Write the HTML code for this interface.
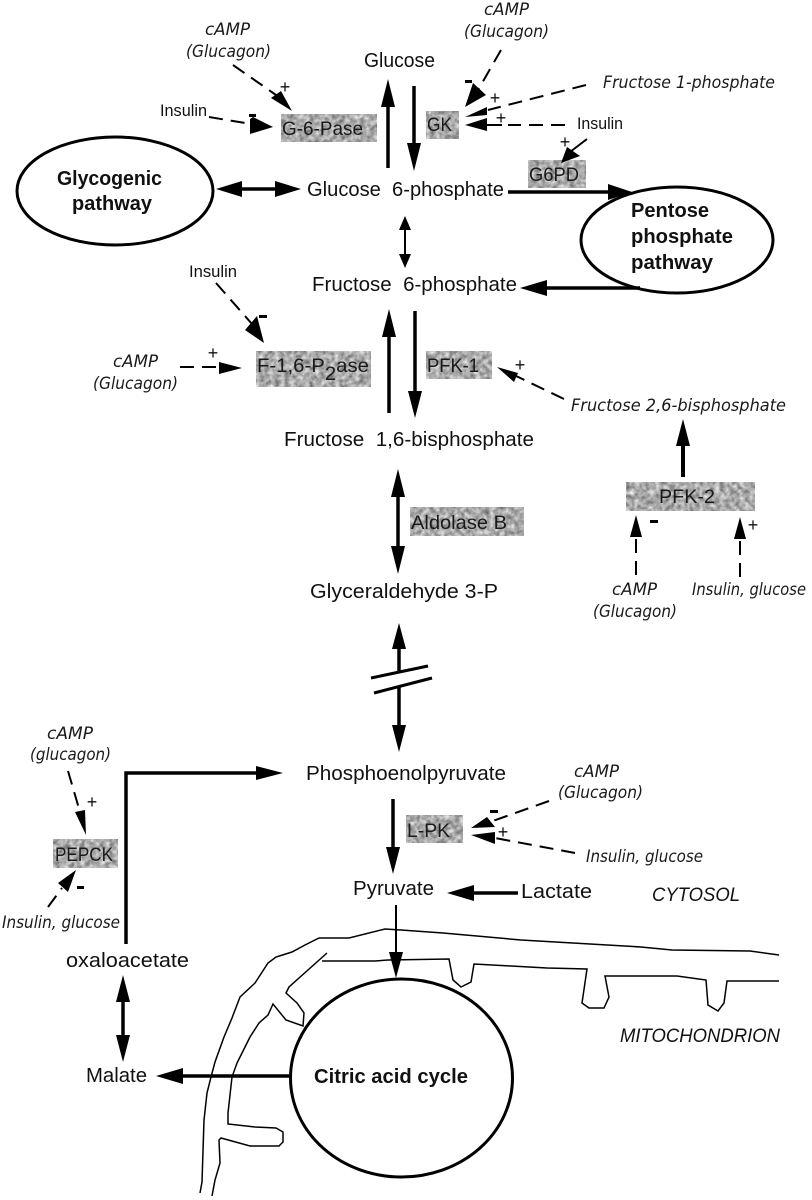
<!DOCTYPE html>
<html><head><meta charset="utf-8"><style>
html,body{margin:0;padding:0;background:#fff}
svg{display:block;filter:blur(.35px)}
text{font-family:"Liberation Sans",sans-serif;fill:#111}
.m{font-size:20px}
.e{font-size:19.5px;fill:#1a1a1a}
.h{font-family:"DejaVu Sans",sans-serif;font-style:oblique;font-size:16.5px;fill:#1a1a1a}
.p{font-size:17px}
.b{font-weight:bold;font-size:20px}
.s{font-size:18px;text-anchor:middle}
.i{font-style:italic;font-size:19px}
.l{stroke:#000;fill:none}
.d{stroke:#000;fill:none;stroke-width:2;stroke-dasharray:14 8}
.g{fill:#ababab}
</style></head><body>
<svg width="812" height="1200" viewBox="0 0 812 1200" xmlns="http://www.w3.org/2000/svg">
<defs>
<filter id="n" x="0" y="0" width="100%" height="100%" color-interpolation-filters="sRGB">
<feTurbulence type="fractalNoise" baseFrequency=".2" numOctaves="2" seed="4"/>
<feColorMatrix values=".7 0 0 0 .32 .7 0 0 0 .32 .7 0 0 0 .32 0 0 0 0 1"/>
<feComposite in2="SourceGraphic" operator="in"/>
</filter>
</defs>
<rect width="812" height="1200" fill="#fff"/>

<!-- enzyme boxes -->
<g filter="url(#n)">
<rect class="g" x="281" y="114" width="96" height="28"/>
<rect class="g" x="426" y="111" width="33" height="28"/>
<rect class="g" x="528" y="160" width="58" height="28"/>
<rect class="g" x="256" y="351" width="115" height="36"/>
<rect class="g" x="426" y="351" width="66" height="28"/>
<rect class="g" x="410" y="507" width="114" height="29"/>
<rect class="g" x="626" y="482" width="129" height="29"/>
<rect class="g" x="406" y="815" width="57" height="28"/>
<rect class="g" x="53" y="839" width="65" height="29"/>
</g>

<!-- ellipses -->
<ellipse class="l" stroke-width="3" cx="115" cy="191" rx="98" ry="54" fill="#fff"/>
<ellipse class="l" stroke-width="3" cx="677" cy="240" rx="96" ry="53" fill="#fff"/>

<!-- mitochondrion -->
<g class="l" stroke-width="1.5">
<polyline points="200,1193 202,1182 204,1120 207,1093 211,1077 215,1062 224,1037 232,1018 240,997 255,983 268,963 276,957 292,952 305,945 319,938 349,938 385,929 401,930 443,933 521,940 641,947 672,950 750,951 779,955"/>
<polyline points="212,1196 215,1180 220,1163 219,1140 221,1138 250,1146 279,1146 283,1142 283,1132 276,1128 255,1127 228,1124 228,1113 232,1077 237,1063 250,1037 259,1023 268,1015 273,1004 286,1020 303,1026 304,1013 297,1003 286,993 289,987 327,953"/>
<polyline points="322,961 375,961 388,960 449,959 453,980 461,987 471,982 474,964 547,968 587,969 582,1003 589,1008 604,1008 609,997 605,976 677,976 706,980 708,1005 718,1011 724,1003 727,981 779,981"/>
</g>
<ellipse class="l" stroke-width="3" cx="401.5" cy="1078" rx="111" ry="99" fill="#fff"/>

<!-- main solid arrows -->
<g class="l" stroke-width="3.5">
<line x1="388" y1="168" x2="388" y2="100"/>
<line x1="414" y1="86" x2="414" y2="150"/>
<line x1="235" y1="189" x2="285" y2="189"/>
<line x1="405" y1="225" x2="405" y2="262" stroke-width="2"/>
<line x1="508" y1="192" x2="612" y2="192"/>
<line x1="640" y1="288" x2="540" y2="288"/>
<line x1="389" y1="413" x2="389" y2="330"/>
<line x1="415" y1="311" x2="415" y2="396"/>
<line x1="398" y1="490" x2="398" y2="552"/>
<line x1="399" y1="640" x2="399" y2="673"/>
<line x1="399" y1="687" x2="399" y2="735"/>
<line x1="393" y1="799" x2="393" y2="855"/>
<line x1="396" y1="905" x2="396" y2="956" stroke-width="2"/>
<line x1="470" y1="893" x2="518" y2="893"/>
<polyline points="126,944 126,773 262,773"/>
<line x1="123" y1="995" x2="123" y2="1040"/>
<line x1="289" y1="1076" x2="178" y2="1076"/>
<line x1="683" y1="477" x2="683" y2="440" stroke-width="4"/>
<line x1="480" y1="125" x2="502" y2="125" stroke-width="2"/>
<line x1="587" y1="139" x2="570" y2="152" stroke-width="2"/>
</g>

<!-- break mark -->
<line class="l" stroke-width="3" x1="371" y1="678" x2="428" y2="666"/>
<line class="l" stroke-width="3" x1="374" y1="693" x2="432" y2="678"/>

<!-- arrowheads -->
<g fill="#000">
<polygon points="388,79 381,107 395,107"/>
<polygon points="414,171 407,143 421,143"/>
<polygon points="216,189 242,181 242,197"/>
<polygon points="301,189 275,181 275,197"/>
<polygon points="405,216 399,230 411,230"/>
<polygon points="405,268 399,254 411,254"/>
<polygon points="632,192 608,184 608,200"/>
<polygon points="520,288 547,280 547,296"/>
<polygon points="389,309 382,337 396,337"/>
<polygon points="415,418 408,391 422,391"/>
<polygon points="398,469 391,497 405,497"/>
<polygon points="398,574 391,546 405,546"/>
<polygon points="399,623 392,649 406,649"/>
<polygon points="399,752 392,725 406,725"/>
<polygon points="393,874 386,847 400,847"/>
<polygon points="396,978 389,952 403,952"/>
<polygon points="447,893 474,885 474,901"/>
<polygon points="283,773 256,766 256,780"/>
<polygon points="123,975 116,1002 130,1002"/>
<polygon points="123,1062 116,1035 130,1035"/>
<polygon points="156,1076 183,1068 183,1084"/>
<polygon points="683,419 676,446 690,446"/>
<!-- dashed-arrow heads -->
<polygon points="292,111 271,98 281,91"/>
<polygon points="273,127 253,119 250,128" />
<polygon points="250,119 253,117 273,127 250,134"/>
<polygon points="465,107 473,83 486,95"/>
<polygon points="465,117 487,107 487,115"/>
<polygon points="465,125 487,118 487,131"/>
<polygon points="561,163 567,147 580,156"/>
<polygon points="264,343 245,330 257,316"/>
<polygon points="242,368 219,362 219,374"/>
<polygon points="497,367 518,373 514,382"/>
<polygon points="636,515 630,537 642,537"/>
<polygon points="740,517 734,539 746,539"/>
<polygon points="86,835 75,812 85,810"/>
<polygon points="76,870 58,883 68,892"/>
<polygon points="471,828 487,817 495,827"/>
<polygon points="471,835 495,832 495,844"/>
</g>

<!-- dashed lines -->
<g class="d">
<line x1="233" y1="65" x2="276" y2="95"/>
<line x1="209" y1="117" x2="245" y2="123"/>
<line x1="501" y1="50" x2="478" y2="90"/>
<line x1="586" y1="85" x2="488" y2="110"/>
<line x1="565" y1="125" x2="508" y2="125"/>
<line x1="216" y1="283" x2="252" y2="324"/>
<line x1="180" y1="367" x2="220" y2="367"/>
<line x1="564" y1="399" x2="514" y2="375"/>
<line x1="636" y1="575" x2="636" y2="537"/>
<line x1="740" y1="577" x2="740" y2="539"/>
<line x1="68" y1="771" x2="80" y2="812"/>
<line x1="48" y1="907" x2="62" y2="888"/>
<line x1="549" y1="801" x2="490" y2="822"/>
<line x1="575" y1="853" x2="495" y2="838"/>
</g>

<!-- main labels -->
<text class="m" x="364" y="67" textLength="71" lengthAdjust="spacingAndGlyphs">Glucose</text>
<text class="m" x="307" y="196" textLength="197" lengthAdjust="spacingAndGlyphs">Glucose&#160;&#160;6-phosphate</text>
<text class="m" x="312" y="291" textLength="205" lengthAdjust="spacingAndGlyphs">Fructose&#160;&#160;6-phosphate</text>
<text class="m" x="284" y="446" textLength="250" lengthAdjust="spacingAndGlyphs">Fructose&#160;&#160;1,6-bisphosphate</text>
<text class="m" x="310" y="598" textLength="188" lengthAdjust="spacingAndGlyphs">Glyceraldehyde 3-P</text>
<text class="m" x="306" y="780" textLength="200" lengthAdjust="spacingAndGlyphs">Phosphoenolpyruvate</text>
<text class="m" x="353" y="895" textLength="81" lengthAdjust="spacingAndGlyphs">Pyruvate</text>
<text class="m" x="521" y="898" textLength="71" lengthAdjust="spacingAndGlyphs">Lactate</text>
<text class="m" x="66" y="967" textLength="123" lengthAdjust="spacingAndGlyphs">oxaloacetate</text>
<text class="m" x="86" y="1082" textLength="61" lengthAdjust="spacingAndGlyphs">Malate</text>

<!-- enzyme labels -->
<text class="e" x="282" y="135" textLength="81" lengthAdjust="spacingAndGlyphs">G-6-Pase</text>
<text class="e" x="427" y="131" textLength="25" lengthAdjust="spacingAndGlyphs">GK</text>
<text class="e" x="529" y="181" textLength="50" lengthAdjust="spacingAndGlyphs">G6PD</text>
<text class="e" x="257" y="372" textLength="112" lengthAdjust="spacingAndGlyphs">F-1,6-P<tspan dy="8">2</tspan><tspan dy="-8">ase</tspan></text>
<text class="e" x="427" y="372" textLength="52" lengthAdjust="spacingAndGlyphs">PFK-1</text>
<text class="e" x="411" y="529" textLength="96" lengthAdjust="spacingAndGlyphs">Aldolase B</text>
<text class="e" x="659" y="503" textLength="56" lengthAdjust="spacingAndGlyphs">PFK-2</text>
<text class="e" x="407" y="837" textLength="43" lengthAdjust="spacingAndGlyphs">L-PK</text>
<text class="e" x="55" y="861" textLength="58" lengthAdjust="spacingAndGlyphs">PEPCK</text>

<!-- ellipse labels -->
<text class="b" x="57" y="185" textLength="105" lengthAdjust="spacingAndGlyphs">Glycogenic</text>
<text class="b" x="72" y="210" textLength="80" lengthAdjust="spacingAndGlyphs">pathway</text>
<text class="b" x="631" y="217" textLength="78" lengthAdjust="spacingAndGlyphs">Pentose</text>
<text class="b" x="631" y="243" textLength="102" lengthAdjust="spacingAndGlyphs">phosphate</text>
<text class="b" x="631" y="269" textLength="82" lengthAdjust="spacingAndGlyphs">pathway</text>
<text class="b" x="314" y="1083" textLength="154" lengthAdjust="spacingAndGlyphs">Citric acid cycle</text>

<!-- regulator labels -->
<text class="h" x="205" y="35" textLength="45" lengthAdjust="spacingAndGlyphs">cAMP</text>
<text class="h" x="186" y="57" textLength="85" lengthAdjust="spacingAndGlyphs">(Glucagon)</text>
<text class="h" x="484" y="15" textLength="45" lengthAdjust="spacingAndGlyphs">cAMP</text>
<text class="h" x="464" y="37" textLength="85" lengthAdjust="spacingAndGlyphs">(Glucagon)</text>
<text class="h" x="603" y="88" textLength="172" lengthAdjust="spacingAndGlyphs">Fructose 1-phosphate</text>
<text class="p" x="577" y="129" textLength="46" lengthAdjust="spacingAndGlyphs">Insulin</text>
<text class="p" x="160" y="116" textLength="47" lengthAdjust="spacingAndGlyphs">Insulin</text>
<text class="p" x="189" y="277" textLength="48" lengthAdjust="spacingAndGlyphs">Insulin</text>
<text class="h" x="113" y="367" textLength="45" lengthAdjust="spacingAndGlyphs">cAMP</text>
<text class="h" x="93" y="389" textLength="85" lengthAdjust="spacingAndGlyphs">(Glucagon)</text>
<text class="h" x="571" y="411" textLength="215" lengthAdjust="spacingAndGlyphs">Fructose 2,6-bisphosphate</text>
<text class="h" x="612" y="595" textLength="45" lengthAdjust="spacingAndGlyphs">cAMP</text>
<text class="h" x="593" y="617" textLength="84" lengthAdjust="spacingAndGlyphs">(Glucagon)</text>
<text class="h" x="692" y="595" textLength="114" lengthAdjust="spacingAndGlyphs">Insulin, glucose</text>
<text class="h" x="47" y="739" textLength="46" lengthAdjust="spacingAndGlyphs">cAMP</text>
<text class="h" x="30" y="760" textLength="81" lengthAdjust="spacingAndGlyphs">(glucagon)</text>
<text class="h" x="2" y="928" textLength="118" lengthAdjust="spacingAndGlyphs">Insulin, glucose</text>
<text class="h" x="574" y="777" textLength="45" lengthAdjust="spacingAndGlyphs">cAMP</text>
<text class="h" x="558" y="798" textLength="85" lengthAdjust="spacingAndGlyphs">(Glucagon)</text>
<text class="h" x="586" y="862" textLength="117" lengthAdjust="spacingAndGlyphs">Insulin, glucose</text>

<text class="i" x="652" y="901" textLength="88" lengthAdjust="spacingAndGlyphs">CYTOSOL</text>
<text class="i" x="620" y="1042" textLength="160" lengthAdjust="spacingAndGlyphs">MITOCHONDRION</text>

<!-- signs -->
<text class="s" x="285" y="93">+</text>
<text class="s" x="495" y="104">+</text>
<text class="s" x="501" y="124">+</text>
<text class="s" x="565" y="148">+</text>
<text class="s" x="213" y="359">+</text>
<text class="s" x="520" y="371">+</text>
<text class="s" x="753" y="531">+</text>
<text class="s" x="92" y="808">+</text>
<text class="s" x="503" y="838">+</text>
<g fill="#000">
<rect x="249" y="114" width="7" height="3"/>
<rect x="465" y="80" width="7" height="3"/>
<rect x="259" y="315" width="8" height="3"/>
<rect x="650" y="520" width="8" height="3"/>
<rect x="77" y="886" width="7" height="3"/>
<rect x="490" y="810" width="8" height="3"/>
</g>
</svg>
</body></html>
